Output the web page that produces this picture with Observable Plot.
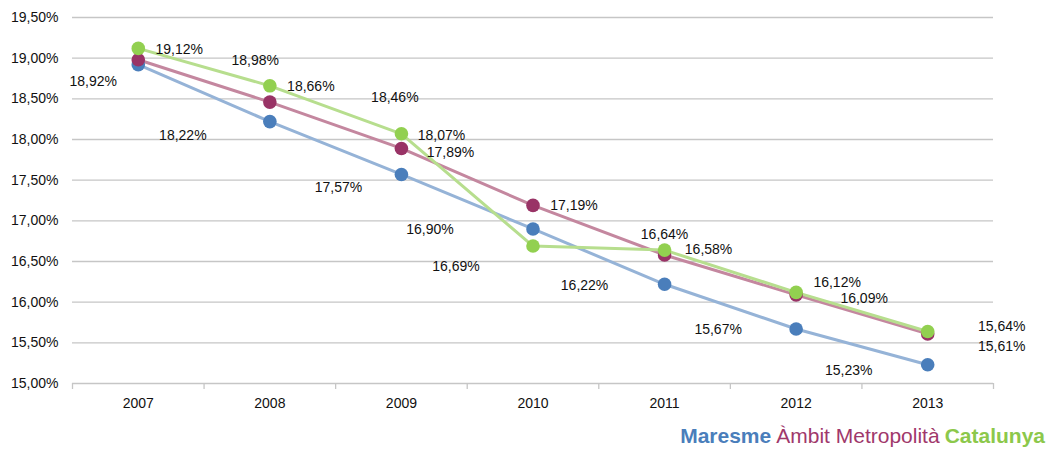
<!DOCTYPE html>
<html>
<head>
<meta charset="utf-8">
<script src="https://cdn.jsdelivr.net/npm/d3@7"></script>
<script src="https://cdn.jsdelivr.net/npm/@observablehq/plot@0.6"></script>
<style>
  html, body { margin: 0; padding: 0; background: #fff; }
  #chart { width: 1051px; }
  #legend { width: 1051px; height: 33px; box-sizing: border-box; text-align: right; padding-right: 6px; padding-top: 3px;
    font-family: "Liberation Sans", Arial, sans-serif; font-size: 21px; line-height: 26px; white-space: nowrap; }
  #legend span { margin-left: 5px; }
</style>
</head>
<body>
<div id="chart"></div>
<div id="legend"></div>
<script>
const years = [2007, 2008, 2009, 2010, 2011, 2012, 2013];
const seriesNames = ["Maresme", "Àmbit Metropolità", "Catalunya"];
const maresme   = [18.92, 18.22, 17.57, 16.90, 16.22, 15.67, 15.23];
const ambit     = [18.98, 18.46, 17.89, 17.19, 16.58, 16.09, 15.61];
const catalunya = [19.12, 18.66, 18.07, 16.69, 16.64, 16.12, 15.64];
const yTicks = [15, 15.5, 16, 16.5, 17, 17.5, 18, 18.5, 19, 19.5];

// styling
const markerColors = ["#4A7EBB", "#993366", "#92D050"];
const lineColors   = ["#95B3D7", "#C4879F", "#B7DE8E"];
const legendColors = ["#4A7EBB", "#A0386B", "#8CC84B"];
const legendWeights = [700, 400, 700];
// label offsets (px) per series, per year
const labelOffsets = [
  [[-45, 17], [-87, 14], [-63, 13], [-103, 1], [-80, 1], [-78, 1], [-79, 6]],
  [[117, 1], [125, -5], [49, 4], [41, 0], [44, -5], [68, 4], [74, 13]],
  [[41, 1], [41, 1], [40, 2], [-77, 20], [0, -16], [41, -10], [74, -5]]
];

const values = [maresme, ambit, catalunya];
const rows = [];
values.forEach((arr, s) => arr.forEach((v, i) => rows.push({series: seriesNames[s], s, i, year: years[i], value: v})));

const fmt = v => v.toFixed(2).replace(".", ",") + "%";
const boundaries = [years[0] - 0.5, ...years.map(y => y + 0.5)];

const marks = [
  Plot.ruleY(yTicks, {y: d => d, stroke: "#C6C6C6", strokeWidth: 1.3}),
  Plot.ruleX(boundaries, {x: d => d, y1: yTicks[0], y2: yTicks[0], insetBottom: -6, stroke: "#C6C6C6", strokeWidth: 1.3})
];

seriesNames.forEach((name, s) => {
  const data = rows.filter(r => r.s === s);
  marks.push(Plot.line(data, {x: "year", y: "value", stroke: lineColors[s], strokeWidth: 3, curve: "linear"}));
});
seriesNames.forEach((name, s) => {
  const data = rows.filter(r => r.s === s);
  marks.push(Plot.dot(data, {x: "year", y: "value", r: 6.8, fill: markerColors[s], stroke: "none"}));
});
rows.forEach(r => {
  const [dx, dy] = labelOffsets[r.s][r.i];
  marks.push(Plot.text([r], {x: "year", y: "value", text: d => fmt(d.value), dx, dy,
    fontSize: 14, fill: "#111", fontFamily: "Liberation Sans, Arial, sans-serif"}));
});

const chart = Plot.plot({
  width: 1051,
  height: 420,
  marginLeft: 72,
  marginRight: 58,
  marginTop: 17,
  marginBottom: 37,
  style: {fontFamily: "Liberation Sans, Arial, sans-serif", fontSize: "14px", color: "#111", background: "#fff"},
  x: {domain: [years[0] - 0.5, years[years.length - 1] + 0.5], ticks: years, tickFormat: d => String(d), tickSize: 0, tickPadding: 15, label: null},
  y: {domain: [yTicks[0], yTicks[yTicks.length - 1]], ticks: yTicks, tickFormat: fmt, tickSize: 0, tickPadding: 14, label: null},
  marks
});
document.getElementById("chart").appendChild(chart);

const legend = document.getElementById("legend");
seriesNames.forEach((name, s) => {
  const sp = document.createElement("span");
  sp.textContent = name;
  sp.style.color = legendColors[s];
  sp.style.fontWeight = legendWeights[s];
  legend.appendChild(sp);
});
</script>
</body>
</html>
